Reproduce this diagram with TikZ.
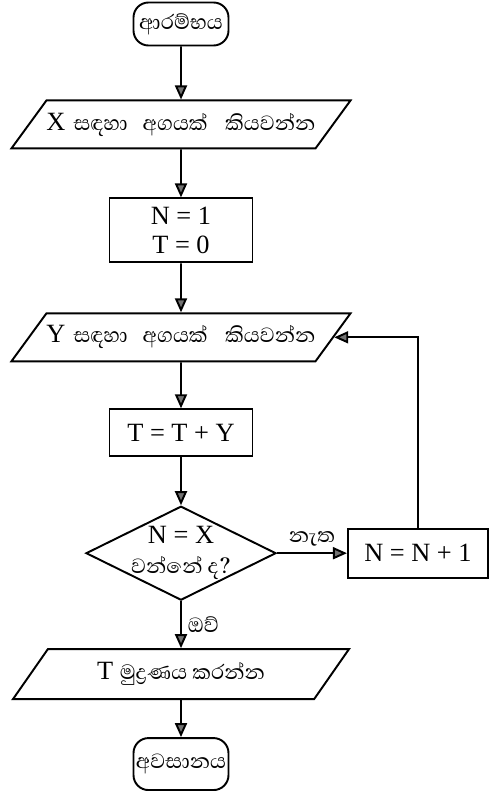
\documentclass[tikz,border=0pt]{standalone}
\usepackage{fontspec}
\setmainfont{Liberation Serif}
\newfontfamily\sinfont[Script=Sinhala]{Abhaya Libre}
\usepackage{tikz}
\usetikzlibrary{arrows.meta, positioning, shapes.geometric}

\begin{document}
\begin{tikzpicture}[
  node distance=9.6mm and 14mm,
  every node/.style={font=\fontsize{15}{17}\selectfont},
  terminal/.style={rectangle, rounded corners=3mm, draw, line width=1.1pt,
    minimum width=19mm, minimum height=8.6mm, inner sep=1pt,
    font=\sinfont\fontsize{15}{17}\selectfont},
  process/.style={rectangle, draw, line width=1.1pt, minimum width=28.6mm,
    inner ysep=0.5mm, align=center},
  io/.style={trapezium, trapezium left angle=45, trapezium right angle=135,
    trapezium stretches body, draw, line width=1.1pt, inner xsep=0pt,
    minimum width=67.2mm, minimum height=9.6mm},
  decision/.style={diamond, aspect=2, draw, line width=1.1pt, inner sep=-2.5mm,
    minimum width=38mm, minimum height=18.8mm, align=center,
    font=\fontsize{15}{17}\selectfont},
  flow/.style={-{Triangle[length=2.8mm, width=2.4mm, fill=black!55]},
    line width=1.1pt},
  answer/.style={font=\sinfont\fontsize{15}{17}\selectfont},
]
  \useasboundingbox (0,0) rectangle (98mm,-158.2mm);
  \node[terminal] (start) at (36.2mm,-4.8mm) {ආරම්භය};
  \node[io, below=10.6mm of start] (readx)
    {X\hspace{1.6mm}{\sinfont\fontsize{15}{17}\selectfont
      සඳහා\hspace{3mm}අගයක්\hspace{3.5mm}කියවන්න}};
  \node[process, below=of readx, minimum height=12.8mm] (init) {N = 1\\T = 0};
  \node[io, below=9.8mm of init] (ready)
    {Y\hspace{1.6mm}{\sinfont\fontsize{15}{17}\selectfont
      සඳහා\hspace{3mm}අගයක්\hspace{3.5mm}කියවන්න}};
  \node[process, below=9.2mm of ready, minimum height=9.4mm] (add) {T = T + Y};
  \node[decision, below=of add] (check)
    {N = X\\{\sinfont\fontsize{15}{17}\selectfont වන්නේ ද?}};
  \node[process, right=of check, minimum width=28mm, minimum height=9.8mm] (inc)
    {N = N + 1};
  \node[io, below=9.4mm of check, minimum height=10mm] (print)
    {T {\sinfont\fontsize{15}{17}\selectfont මුද්^^^^200dරණය කරන්න}};
  \node[terminal, below=7.4mm of print, minimum height=10.4mm] (stop) {අවසානය};
  \draw[flow] (start) -- (readx);
  \draw[flow] (readx) -- (init);
  \draw[flow] (init) -- (ready);
  \draw[flow] (ready) -- (add);
  \draw[flow] (add) -- (check);
  \draw[flow] (check) -- node[above, answer] {නැත} (inc);
  \draw[flow] (check) -- node[right, answer] {ඔව්} (print);
  \draw[flow] (print) -- (stop);
  \draw[flow] (inc) |- (ready.east);
\end{tikzpicture}
\end{document}
